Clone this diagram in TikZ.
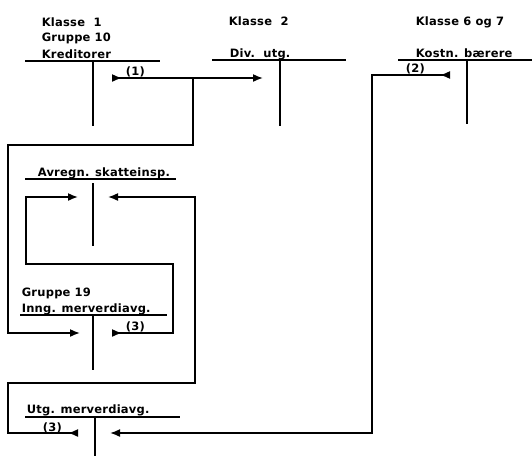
\documentclass[tikz,border=0pt]{standalone}
\usepackage{fontspec}
\setmainfont{DejaVu Sans}[LetterSpace=2]
\usetikzlibrary{arrows.meta}
\begin{document}
\begin{tikzpicture}[x=1pt,y=-1pt,line width=1.6pt,
  lbl/.style={anchor=base west,inner sep=0pt,font=\fontsize{11.5}{14}\selectfont\bfseries},
  tip/.style={-{Latex[length=10pt,width=8pt]}},
  flowline/.style={{Latex[reversed,length=10pt,width=8pt]}-{Latex[length=10pt,width=8pt]}}]
\useasboundingbox (0,0) rectangle (532,456);
\fill[white] (0,0) rectangle (532,456);

% labels
\node[lbl] (kl1) at (41,26) {Klasse\ \ 1};
\node[lbl] (gr10) at (41,41) {Gruppe 10};
\node[lbl] (kred) at (41,58) {Kreditorer};
\node[lbl] (kl2) at (228,25) {Klasse\ \ 2};
\node[lbl] (div) at (229,57) {Div.\ \ utg.};
\node[lbl] (kl67) at (415,25) {Klasse 6 og 7};
\node[lbl] (kost) at (415,57) {Kostn. bærere};
\node[lbl] (avr) at (37,176) {Avregn. skatteinsp.};
\node[lbl] (gr19) at (21,296) {Gruppe 19};
\node[lbl] (inng) at (21,312) {Inng. merverdiavg.};
\node[lbl] (utg) at (26,413) {Utg. merverdiavg.};
\node[lbl] (l1) at (125,75) {(1)};
\node[lbl] (l2) at (405,72) {(2)};
\node[lbl] (l3a) at (125,330) {(3)};
\node[lbl] (l3b) at (42,431) {(3)};

% T-accounts
\coordinate (kredL) at (25,61);  \coordinate (kredR) at (160,61);
\coordinate (kredT) at (93,61);  \coordinate (kredB) at (93,126);
\coordinate (divL) at (212,60);  \coordinate (divR) at (346,60);
\coordinate (divT) at (280,60);  \coordinate (divB) at (280,126);
\coordinate (kostL) at (398,60); \coordinate (kostR) at (532,60);
\coordinate (kostT) at (467,60); \coordinate (kostB) at (467,124);
\coordinate (avrL) at (25,179);  \coordinate (avrR) at (176,179);
\coordinate (avrT) at (93,183);  \coordinate (avrB) at (93,246);
\coordinate (inngL) at (20,315); \coordinate (inngR) at (167,315);
\coordinate (inngT) at (93,315); \coordinate (inngB) at (93,370);
\coordinate (utgL) at (25,417);  \coordinate (utgR) at (180,417);
\coordinate (utgT) at (95,417);  \coordinate (utgB) at (95,456);
\foreach \a in {kred,div,kost,avr,inng,utg}{
  \draw (\a L) -- (\a R) (\a T) -- (\a B);
}

% connector points
\coordinate (kredOut) at (112,78);
\coordinate (divIn) at (263,78);
\coordinate (c1b) at (193,78);
\coordinate (lA) at (8,145);
\coordinate (inngIn) at (80,333);
\coordinate (kostOut) at (450,75);
\coordinate (rB) at (372,433);
\coordinate (utgIn) at (110,433);
\coordinate (inngOut) at (112,333);
\coordinate (iA) at (173,264);
\coordinate (iB) at (26,197);
\coordinate (avrInL) at (78,197);
\coordinate (utgOut) at (78,433);
\coordinate (uA) at (8,383);
\coordinate (uB) at (195,197);
\coordinate (avrInR) at (108,197);

% (1)
\draw[flowline] (kredOut) -- (divIn);
\draw[tip] (c1b) |- (lA) |- (inngIn);
% (2)
\draw[flowline] (kostOut) -| (rB) -- (utgIn);
% (3) Inng
\draw[flowline] (inngOut) -| (iA) -| (iB) -- (avrInL);
% (3) Utg
\draw[flowline] (utgOut) -| (uA) -| (uB) -- (avrInR);
\end{tikzpicture}
\end{document}
